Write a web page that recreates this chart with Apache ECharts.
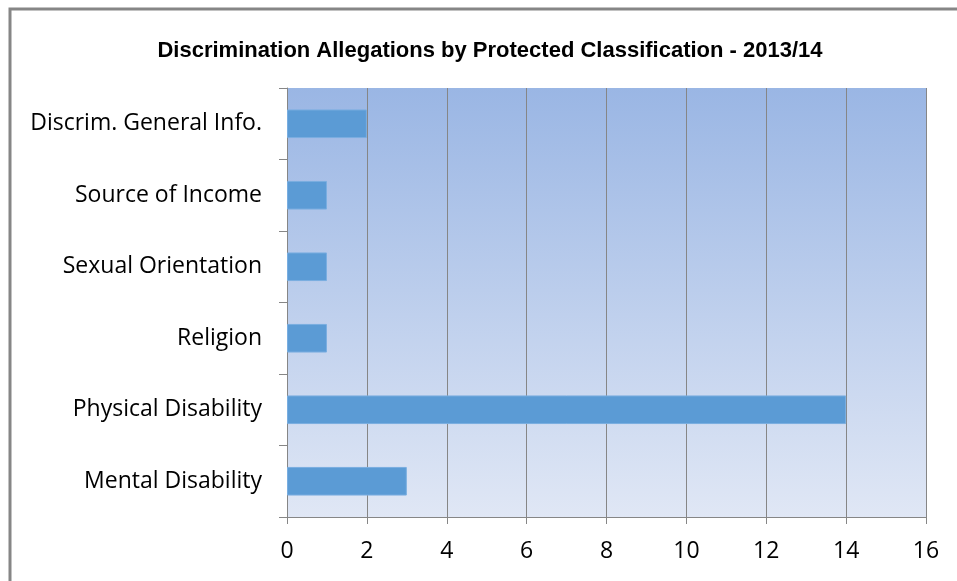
<!DOCTYPE html>
<html>
<head>
<meta charset="utf-8">
<script src="https://cdn.jsdelivr.net/npm/echarts@6/dist/echarts.min.js"></script>
<style>
  html, body { margin: 0; padding: 0; background: #fff; }
  #chart { width: 957px; height: 581px; }
</style>
</head>
<body>
<div id="chart"></div>
<script>
const categories = ['Mental Disability', 'Physical Disability', 'Religion', 'Sexual Orientation', 'Source of Income', 'Discrim. General Info.']
const allegations = [3, 14, 1, 1, 1, 2]
const xTicks = [0, 2, 4, 6, 8, 10, 12, 14, 16]

const chart = echarts.init(document.getElementById('chart'))

const option = {
  animation: false,
  title: {
    text: 'Discrimination Allegations by Protected Classification - 2013/14',
    left: 485,
    textAlign: 'center',
    top: 35,
    textStyle: { fontFamily: 'Liberation Sans', fontWeight: 'bold', fontSize: 22, color: '#000' }
  },
  graphic: [
    {
      type: 'polyline',
      shape: { points: [[10, 581], [10, 9], [957, 9]] },
      style: { stroke: '#868686', lineWidth: 3, fill: null }
    }
  ],
  grid: {
    left: 287, right: 31, top: 88, bottom: 64,
    show: true,
    borderWidth: 0,
    backgroundColor: new echarts.graphic.LinearGradient(0, 0, 0, 1, [
      { offset: 0, color: '#9ab6e4' },
      { offset: 1, color: '#e0e7f5' }
    ])
  },
  xAxis: {
    type: 'value',
    min: xTicks[0],
    max: xTicks[xTicks.length - 1],
    interval: 2,
    axisLine: { show: true, lineStyle: { color: '#868686', width: 1 } },
    axisTick: { show: true, length: 7, lineStyle: { color: '#868686' } },
    axisLabel: { color: '#000', fontSize: 23, fontFamily: 'Open Sans', margin: 23 },
    splitLine: { show: true, lineStyle: { color: '#868686', width: 1 } }
  },
  yAxis: {
    type: 'category',
    data: categories,
    axisLine: { show: true, lineStyle: { color: '#868686', width: 1 } },
    axisTick: { show: true, length: 8, alignWithLabel: false, lineStyle: { color: '#868686' } },
    axisLabel: { color: '#000', fontSize: 23, fontFamily: 'Open Sans', margin: 25 }
  },
  series: [
    {
      type: 'bar',
      data: allegations,
      barWidth: '40%',
      itemStyle: { color: '#5b9bd5', borderColor: '#7aaee0', borderWidth: 1 }
    }
  ]
}

chart.setOption(option)
</script>
</body>
</html>
